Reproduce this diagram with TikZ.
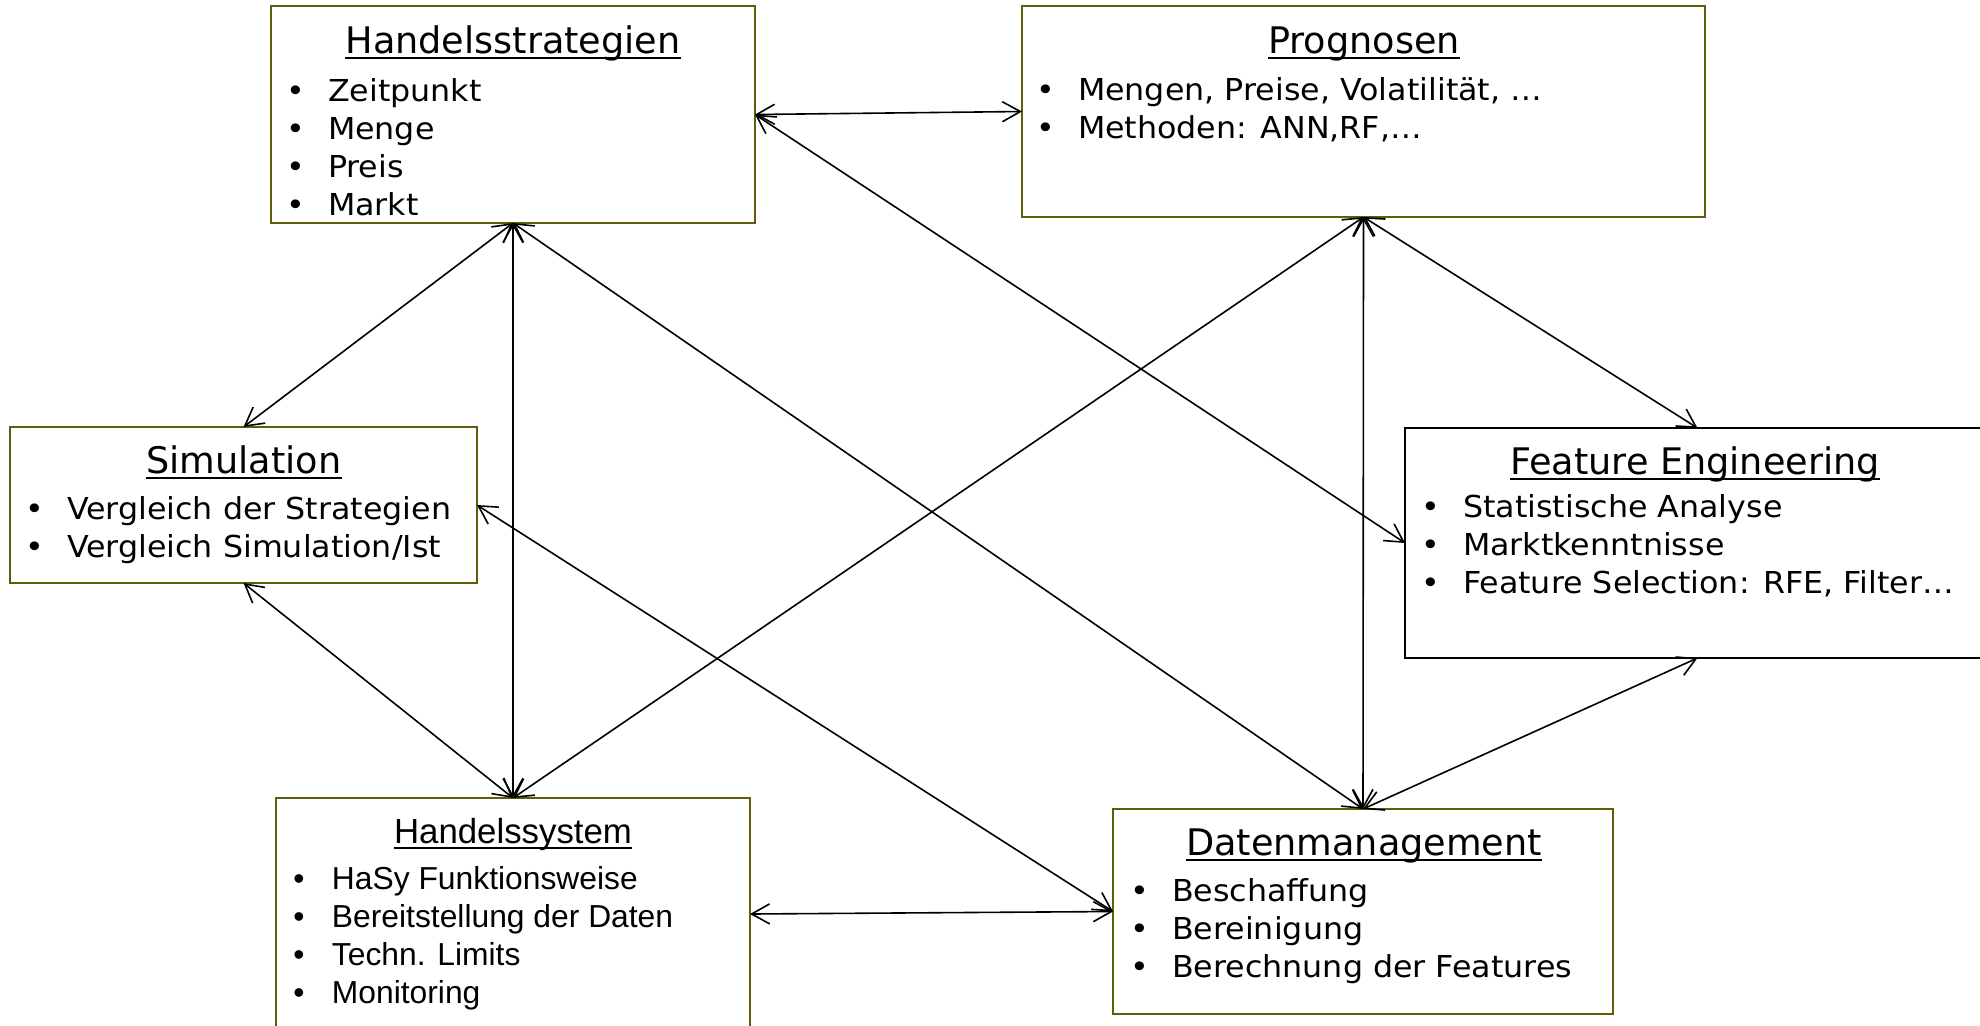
\documentclass[tikz,border=0pt]{standalone}
\usepackage{fontspec}
\setmainfont{DejaVu Sans}
\newfontfamily\boxfont[FakeStretch=1.05]{DejaVu Sans}
\newfontfamily\hasyfont{Liberation Sans}
\usetikzlibrary{arrows.meta,fit}
\definecolor{boxolive}{RGB}{96,92,8}
\newcommand\itembul{\makebox[20.8pt][l]{•}}
\newcommand\hasybul{\makebox[19.3pt][l]{•}}

\begin{document}
\begin{tikzpicture}[x=0.5pt,y=-0.5pt,
  panel/.style={draw=boxolive, line width=1.4pt, inner sep=0pt, outer sep=0pt, rectangle},
  heading/.style={inner sep=0pt, anchor=base, font=\fontsize{18.3}{22}\selectfont},
  hasyheading/.style={inner sep=0pt, anchor=base, font=\hasyfont\fontsize{17.4}{21}\selectfont},
  % multi-line nodes: the base anchor sits on the last line
  items/.style={inner sep=0pt, anchor=base west, align=left, font=\boxfont\fontsize{15.1}{19}\selectfont},
  hasyitems/.style={inner sep=0pt, anchor=base west, align=left, font=\hasyfont\fontsize{15.9}{19}\selectfont},
  uline/.style={line width=1pt},
  link/.style={{Straight Barb[length=9pt,width=10pt]}-{Straight Barb[length=9pt,width=10pt]}, line width=0.8pt},
]
\useasboundingbox (0,0) rectangle (1980,1025);
\fill[white] (0,0) rectangle (1980,1025);
\clip (0,0) rectangle (1980,1025);

% panels
\node[panel, fit={(271,6) (755,223)}] (hs) {};
\node[panel, fit={(1022,6) (1705,217)}] (prog) {};
\node[panel, fit={(10,427) (477,583)}] (sim) {};
\node[panel, draw=black, fit={(1405,428) (1990,658)}] (fe) {};
\node[panel, fit={(276,798) (750,1030)}] (hsys) {};
\node[panel, fit={(1113,809) (1613,1014)}] (dm) {};

% headings with underlines
\node[heading] (hs-t) at (513,53) {Handelsstrategien};
\node[heading] (prog-t) at (1364,53) {Prognosen};
\node[heading] (sim-t) at (244,473) {Simulation};
\node[heading] (fe-t) at (1695,474) {Feature Engineering};
\node[hasyheading] (hsys-t) at (513,843) {Handelssystem};
\node[heading] (dm-t) at (1364,855) {Datenmanagement};
\foreach \t in {hs-t,prog-t,sim-t,fe-t,hsys-t,dm-t}
  \draw[uline] ([yshift=-2.6pt]\t.base west) -- ([yshift=-2.6pt]\t.base east);

% bullet lists (positioned by the baseline of their last line)
\node[items] (hs-i) at (286,215) {\itembul Zeitpunkt\\\itembul Menge\\\itembul Preis\\\itembul Markt};
\node[items] (prog-i) at (1036,138) {\itembul Mengen, Preise, Volatilität, …\\\itembul Methoden: ANN,RF,…};
\node[items] (sim-i) at (25,557) {\itembul Vergleich der Strategien\\\itembul Vergleich Simulation/Ist};
\node[items] (fe-i) at (1421,593) {\itembul Statistische Analyse\\\itembul Marktkenntnisse\\\itembul Feature Selection: RFE, Filter…};
\node[hasyitems] (hsys-i) at (293,1003) {\hasybul HaSy Funktionsweise\\\hasybul Bereitstellung der Daten\\\hasybul Techn. Limits\\\hasybul Monitoring};
\node[items] (dm-i) at (1130,977) {\itembul Beschaffung\\\itembul Bereinigung\\\itembul Berechnung der Features};

% connections
\draw[link] (hs.east) -- (prog.west);
\draw[link] (hs.east) -- (fe.west);
\draw[link] (hs.south) -- (sim.north);
\draw[link] (hs.south) -- (hsys.north);
\draw[link] (hs.south) -- (dm.north);
\draw[link] (prog.south) -- (hsys.north);
\draw[link] (prog.south) -- (dm.north);
\draw[link] (prog.south) -- (fe.north);
\draw[link] (sim.east) -- (dm.west);
\draw[link] (sim.south) -- (hsys.north);
\draw[link] (hsys.east) -- (dm.west);
\draw[link] (fe.south) -- (dm.north);
\end{tikzpicture}
\end{document}
